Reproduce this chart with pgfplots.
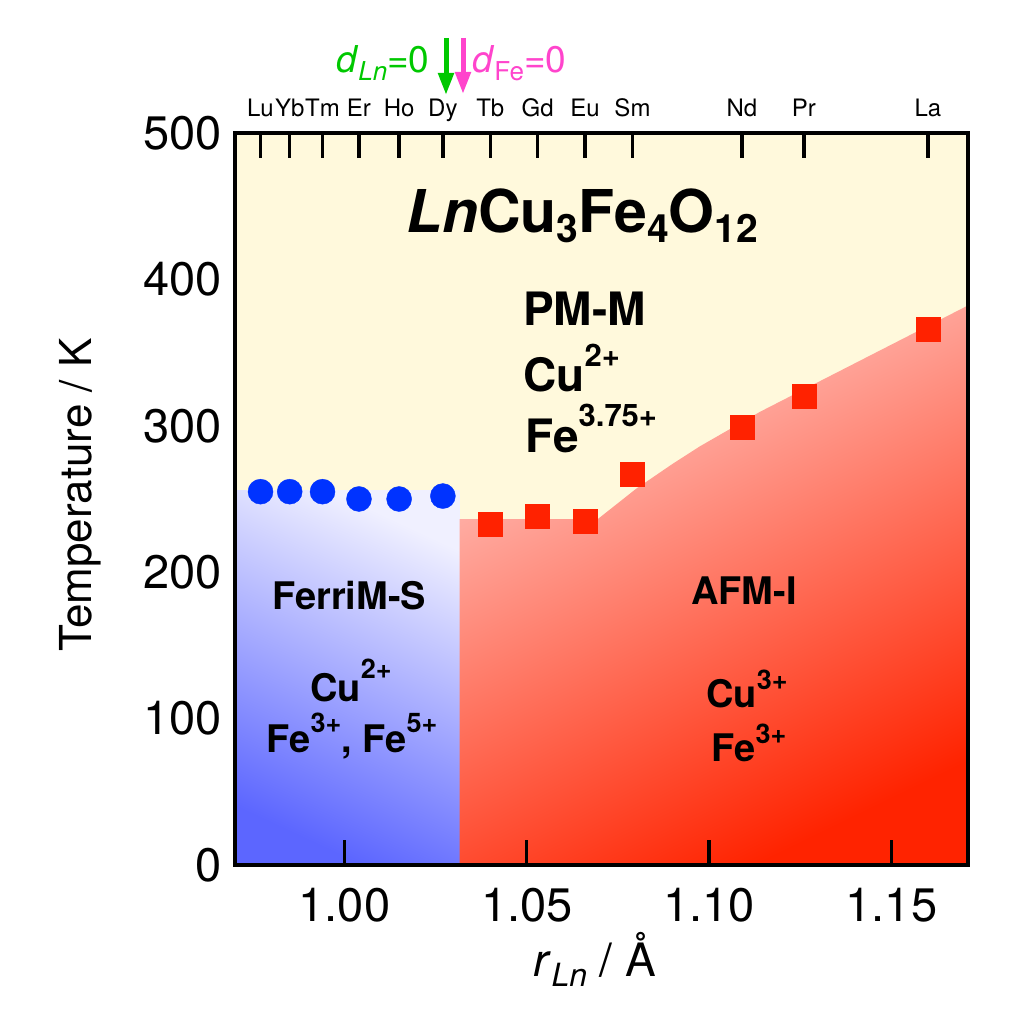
\documentclass[border=0pt]{standalone}
\usepackage{fontspec}
\setmainfont{TeX Gyre Heros}
\usepackage{pgfplots}
\pgfplotsset{compat=1.18}
\usetikzlibrary{arrows.meta}
\definecolor{cream}{RGB}{255,249,220}
\definecolor{bluedark}{RGB}{92,102,255}
\definecolor{bluelight}{RGB}{240,240,255}
\definecolor{redlight}{RGB}{255,202,198}
\definecolor{reddark}{RGB}{255,35,0}
\definecolor{markblue}{RGB}{0,51,255}
\definecolor{markred}{RGB}{255,34,0}
\definecolor{dgreen}{RGB}{0,200,0}
\definecolor{dmag}{RGB}{255,68,204}
\newcommand\fs[1]{\fontsize{#1}{#1}\selectfont}
\begin{document}
\begin{tikzpicture}
\useasboundingbox (-235pt,-159pt) rectangle (799pt,865pt);
\begin{axis}[
  at={(0pt,0pt)}, anchor=south west,
  scale only axis, width=733pt, height=732pt,
  xmin=0.97, xmax=1.171, ymin=0, ymax=500,
  axis background/.style={fill=cream},
  axis on top,
  axis line style={line width=4pt},
  xtick={1.00,1.05,1.10,1.15},
  xticklabels={1.00,1.05,1.10,1.15},
  xtick pos=left,
  ytick={0,100,200,300,400,500},
  yticklabels={0,100,200,300,400,500},
  ytick pos=left,
  ytick style={draw=none},
  tick align=inside,
  major tick length=25pt,
  xtick style={line width=3.5pt, black},
  ticklabel style={font=\fs{47}, inner sep=0pt},
  xticklabel style={anchor=north, yshift=-23pt},
  yticklabel style={anchor=east, xshift=-13pt},
]
\addplot[draw=none, top color=bluelight, bottom color=bluedark, shading angle=-25]
  coordinates {(0.97,0) (1.0316,0) (1.0316,255.5) (0.97,255.5)} -- cycle;
\addplot[draw=none, top color=redlight, bottom color=reddark, shading angle=26]
  coordinates {(1.0316,0) (1.171,0) (1.171,382.2) (1.114,309.6) (1.0975,286.0)
               (1.090,274.0) (1.080,257.0) (1.0695,236.3) (1.0316,236.3)} -- cycle;
\addplot[only marks, mark=*, mark size=12.5pt, markblue]
  coordinates {(0.977,255) (0.985,255) (0.994,255) (1.004,250) (1.015,250) (1.027,252)};
\addplot[only marks, mark=square*, mark size=12pt, markred]
  coordinates {(1.040,233) (1.053,238) (1.066,235) (1.079,267) (1.109,299) (1.126,320) (1.160,366)};
\end{axis}
\begin{axis}[
  at={(0pt,0pt)}, anchor=south west,
  scale only axis, width=733pt, height=732pt,
  xmin=0.97, xmax=1.171, ymin=0, ymax=500,
  axis line style={draw=none},
  ytick=\empty,
  xtick={0.977,0.985,0.994,1.004,1.015,1.027,1.040,1.053,1.066,1.079,1.109,1.126,1.160},
  xticklabels={Lu,Yb,Tm,Er,Ho,Dy,Tb,Gd,Eu,Sm,Nd,Pr,La},
  xtick pos=right, xticklabel pos=right,
  tick align=inside,
  major tick length=25pt,
  xtick style={line width=3.5pt, black},
  xticklabel style={font=\fs{24}, anchor=base, inner sep=0pt, yshift=16pt},
]
\end{axis}
% title and region labels
\node[anchor=base west, inner sep=0pt, font=\fs{59}\bfseries] at (171pt,632pt)
  {\textit{Ln}Cu\raisebox{-10pt}{\fs{39}3}Fe\raisebox{-10pt}{\fs{39}4}O\raisebox{-10pt}{\fs{39}12}};
\node[anchor=base west, inner sep=0pt, font=\fs{46}\bfseries] at (288pt,539pt) {PM-M};
\node[anchor=base west, inner sep=0pt, font=\fs{46}\bfseries] at (288pt,473pt) {Cu\raisebox{25pt}{\fs{31}2+}};
\node[anchor=base west, inner sep=0pt, font=\fs{46}\bfseries] at (290pt,412pt) {Fe\raisebox{26pt}{\fs{31}3.75+}};
\node[anchor=base, inner sep=0pt, font=\fs{38}\bfseries] at (114pt,255pt) {FerriM-S};
\node[anchor=base, inner sep=0pt, font=\fs{38}\bfseries] at (116pt,163pt) {Cu\raisebox{23pt}{\fs{27}2+}};
\node[anchor=base, inner sep=0pt, font=\fs{38}\bfseries] at (117pt,112pt) {Fe\raisebox{20pt}{\fs{27}3+}, Fe\raisebox{20pt}{\fs{27}5+}};
\node[anchor=base, inner sep=0pt, font=\fs{38}\bfseries] at (509pt,260pt) {AFM-I};
\node[anchor=base, inner sep=0pt, font=\fs{38}\bfseries] at (512pt,157pt) {Cu\raisebox{18pt}{\fs{27}3+}};
\node[anchor=base, inner sep=0pt, font=\fs{38}\bfseries] at (514pt,103pt) {Fe\raisebox{18pt}{\fs{27}3+}};
% d = 0 markers
\node[anchor=base west, inner sep=0pt, font=\fs{37}, text=dgreen] at (101pt,792pt)
  {\textit{d}\raisebox{-8pt}{\fs{26}\textit{Ln}}=0};
\node[anchor=base west, inner sep=0pt, font=\fs{37}, text=dmag] at (237pt,792pt)
  {\textit{d}\raisebox{-8pt}{\fs{26}Fe}=0};
\draw[dgreen, line width=5pt, -{Triangle[width=15pt,length=22pt]}] (211pt,827pt) -- (211pt,770pt);
\draw[dmag, line width=5pt, -{Triangle[width=15pt,length=22pt]}] (228pt,827pt) -- (228pt,771pt);
% axis labels
\node[rotate=90, anchor=base, inner sep=0pt, font=\fs{44}] at (-143pt,370pt) {Temperature / K};
\node[anchor=base, inner sep=0pt, font=\fs{46}] at (360pt,-112pt)
  {\textit{r}\raisebox{-10pt}{\fs{32}\textit{Ln}} / Å};
\end{tikzpicture}
\end{document}
